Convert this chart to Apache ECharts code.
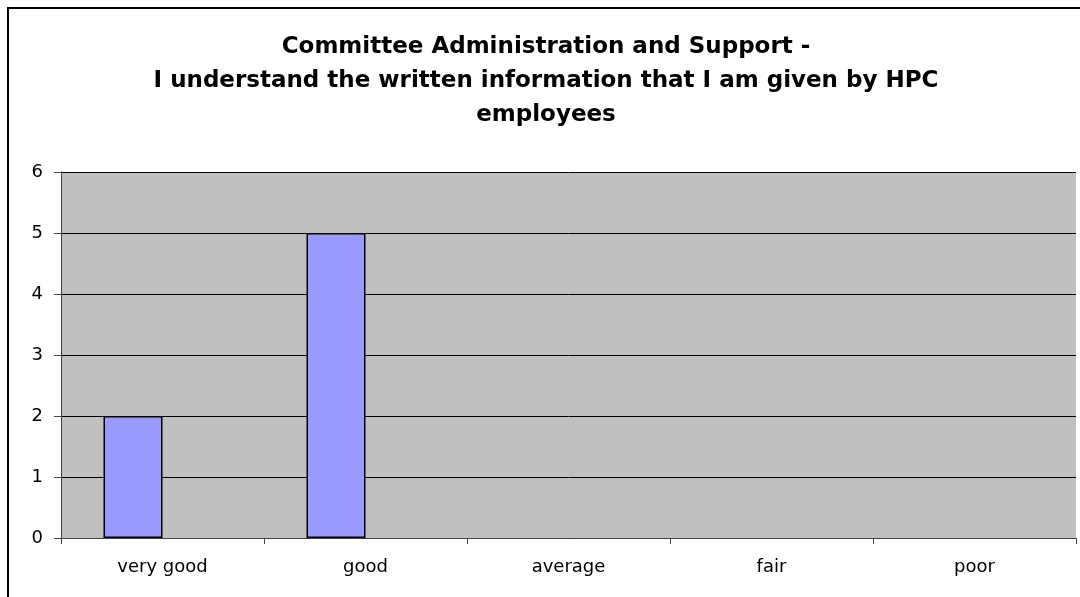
<!DOCTYPE html>
<html>
<head>
<meta charset="utf-8">
<script src="https://cdn.jsdelivr.net/npm/echarts@6/dist/echarts.min.js"></script>
<style>
html, body { margin: 0; padding: 0; background: #fff; overflow: hidden; }
#chart { position: absolute; left: 7px; top: 7px; width: 1078px; height: 600px; border: 2px solid #000; box-sizing: border-box; }
</style>
</head>
<body>
<div id="chart"></div>
<script>
// 数据
var categories = ['very good', 'good', 'average', 'fair', 'poor'];
var responses = [2, 5, '-', '-', '-'];
var emptySeries = ['-', '-', '-', '-', '-'];
var yTicks = [0, 6, 1];

var chart = echarts.init(document.getElementById('chart'), null, { renderer: 'canvas' });

var option = {
    animation: false,
    title: {
        text: 'Committee Administration and Support -\nI understand the written information that I am given by HPC\nemployees',
        left: 'center',
        top: 16,
        textStyle: {
            fontFamily: 'DejaVu Sans, sans-serif',
            fontWeight: 'bold',
            fontSize: 23,
            lineHeight: 34,
            color: '#000'
        }
    },
    grid: {
        left: 52,
        right: 7,
        top: 163,
        bottom: 67
    },
    xAxis: {
        type: 'category',
        data: categories,
        axisLine: { lineStyle: { color: '#444', width: 1 } },
        axisTick: { show: true, inside: false, length: 6, lineStyle: { color: '#444' } },
        axisLabel: {
            margin: 20,
            fontFamily: 'DejaVu Sans, sans-serif',
            fontSize: 18,
            color: '#000'
        },
        splitLine: { show: false }
    },
    yAxis: {
        type: 'value',
        min: yTicks[0],
        max: yTicks[1],
        interval: yTicks[2],
        axisLine: { show: true, lineStyle: { color: '#444', width: 1 } },
        axisTick: { show: true, inside: false, length: 7, lineStyle: { color: '#444' } },
        axisLabel: {
            margin: 18,
            fontFamily: 'DejaVu Sans, sans-serif',
            fontSize: 18,
            color: '#000'
        },
        splitLine: { show: true, lineStyle: { color: '#000', width: 1 } },
        splitArea: { show: true, areaStyle: { color: ['#C0C0C0', '#C0C0C0'] } }
    },
    series: [{
        name: 'responses',
        type: 'bar',
        data: responses,
        barWidth: 59,
        barGap: '0%',
        itemStyle: { color: '#9999FF', borderColor: '#000', borderWidth: 1.5 }
    },
    {
        name: 'empty',
        type: 'bar',
        data: emptySeries,
        barWidth: 59,
        itemStyle: { color: '#993366', borderColor: '#000', borderWidth: 1.5 }
    }]
};

chart.setOption(option);

window.onresize = function() {
    chart.resize();
}
</script>
</body>
</html>
